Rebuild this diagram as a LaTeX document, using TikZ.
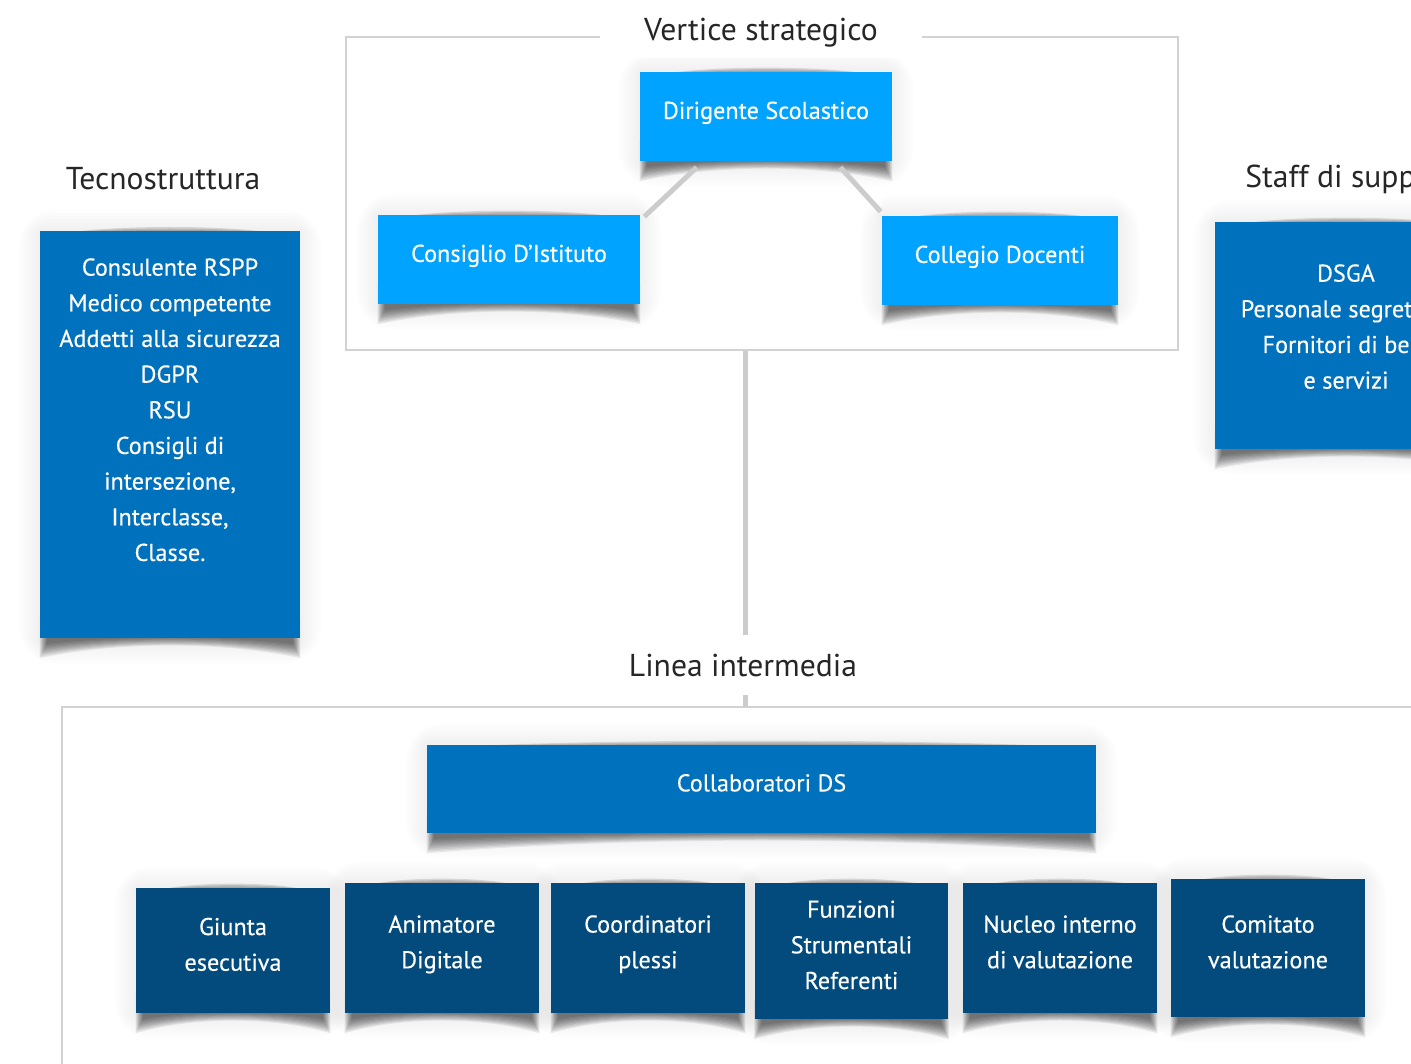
\documentclass[tikz,border=0pt]{standalone}
\usepackage{fontspec}
\setmainfont{PT Sans}
\newfontfamily\boxfont{PT Sans}[FakeBold=0.35]
\usepackage{xcolor}
\usetikzlibrary{calc,backgrounds}
\definecolor{lightblue}{RGB}{0,163,255}
\definecolor{midblue}{RGB}{0,113,188}
\definecolor{darkblue}{RGB}{3,75,125}
% curled paper shadow under a box, plus a faint glow and a top shade
\newcommand{\boxshadow}[1]{%
  \foreach \g in {3,6,...,21}
    \fill[black, opacity=0.007, rounded corners=\g]
      ($(#1.north west)+(-\g,-\g)$) rectangle ($(#1.south east)+(\g,\g+4)$);
  \foreach \s in {1,...,10}
    \fill[black, opacity=0.07]
      ($(#1.south west)+(8-0.8*\s,-20)$) -- ($(#1.south west)+(8-0.8*\s,4+1.6*\s)$)
      .. controls ($(#1.south west)!0.3!(#1.south east)+(0,0.6*\s-3)$)
         and ($(#1.south west)!0.7!(#1.south east)+(0,0.6*\s-3)$) ..
      ($(#1.south east)+(-8+0.8*\s,4+1.6*\s)$) -- ($(#1.south east)+(-8+0.8*\s,-20)$) -- cycle;
  \foreach \s in {1,2,3}
    \fill[black, opacity=0.12]
      ($(#1.north west)+(25,2)$)
      .. controls ($(#1.north west)!0.3!(#1.north east)+(0,-2*\s)$)
         and ($(#1.north west)!0.7!(#1.north east)+(0,-2*\s)$) ..
      ($(#1.north east)+(-25,2)$) -- cycle;
}

\begin{document}
\begin{tikzpicture}[x=0.02cm, y=-0.02cm,
  box/.style={fill=#1, text=white, align=center, inner sep=0pt, text depth=0.25cm,
    font=\boxfont\fontsize{13.8}{20.3}\selectfont},
  title/.style={font=\fontsize{18}{22}\selectfont, text=black!85},
  frame/.style={draw=gray!35, line width=0.04cm},
  link/.style={draw=gray!40, line width=0.1cm},
]
\useasboundingbox (0,0) rectangle (1411,1064);
\clip (0,0) rectangle (1411,1064);

% vertice strategico
\node[frame, minimum width=16.64cm, minimum height=6.26cm] (vframe) at (762,193.5) {};
\node[title, fill=white, minimum width=6.44cm, minimum height=1cm] (tVertice) at (761,33) {Vertice strategico};
\node[box=lightblue, minimum width=5.04cm, minimum height=1.78cm] (dirigente) at (766,116.5) {Dirigente Scolastico};
\node[box=lightblue, minimum width=5.24cm, minimum height=1.78cm] (consiglio) at (509,259.5) {Consiglio D’Istituto};
\node[box=lightblue, minimum width=4.72cm, minimum height=1.78cm] (collegio) at (1000,260.5) {Collegio Docenti};
\draw[link] ($(dirigente.south west)+(57,6)$) -- ($(consiglio.north east)+(4,2)$);
\draw[link] ($(dirigente.south east)+(-52,6)$) -- ($(collegio.north west)+(-1,-4)$);

% tecnostruttura
\node[title] (tTecno) at (163,179) {Tecnostruttura};
\node[box=midblue, minimum width=5.2cm, inner ysep=0.54cm, text depth=1cm, anchor=north] (tecno) at (170,231)
  {Consulente RSPP\\Medico competente\\Addetti alla sicurezza\\DGPR\\RSU\\Consigli di\\intersezione,\\Interclasse,\\Classe.};

% staff di supporto
\node[title, anchor=west, inner xsep=0pt] (tStaff) at (1245,179) {Staff di supporto};
\node[box=midblue, minimum width=5.24cm, minimum height=4.54cm, text depth=0.36cm] (staff) at (1346,335.5)
  {DSGA\\Personale segreteria\\Fornitori di beni\\e servizi};

% linea intermedia
\node[title, minimum height=1.2cm] (tLinea) at (743,665) {Linea intermedia};
\coordinate (lframe) at (745,707);
\draw[frame] (62,1080) |- (1430,707);
\draw[link] (vframe.south -| lframe) -- (tLinea.north -| lframe);
\draw[link] (tLinea.south -| lframe) -- (lframe);

\node[box=midblue, minimum width=13.38cm, minimum height=1.76cm] (collab) at (761.5,789) {Collaboratori DS};
\node[box=darkblue, minimum width=3.88cm, minimum height=2.5cm] (giunta) at (233,950.5) {Giunta\\esecutiva};
\node[box=darkblue, minimum width=3.88cm, minimum height=2.6cm] (animatore) at (442,948) {Animatore\\Digitale};
\node[box=darkblue, minimum width=3.88cm, minimum height=2.6cm] (coordinatori) at (648,948) {Coordinatori\\plessi};
\node[box=darkblue, minimum width=3.88cm, minimum height=2.72cm] (funzioni) at (851.5,951) {Funzioni\\Strumentali\\Referenti};
\node[box=darkblue, minimum width=3.88cm, minimum height=2.6cm] (nucleo) at (1060,948) {Nucleo interno\\di valutazione};
\node[box=darkblue, minimum width=3.88cm, minimum height=2.76cm] (comitato) at (1268,948) {Comitato\\valutazione};

\begin{scope}[on background layer]
  \foreach \n in {dirigente,consiglio,collegio,tecno,staff,collab,giunta,animatore,coordinatori,funzioni,nucleo,comitato}
    {\boxshadow{\n}}
\end{scope}
\end{tikzpicture}
\end{document}
